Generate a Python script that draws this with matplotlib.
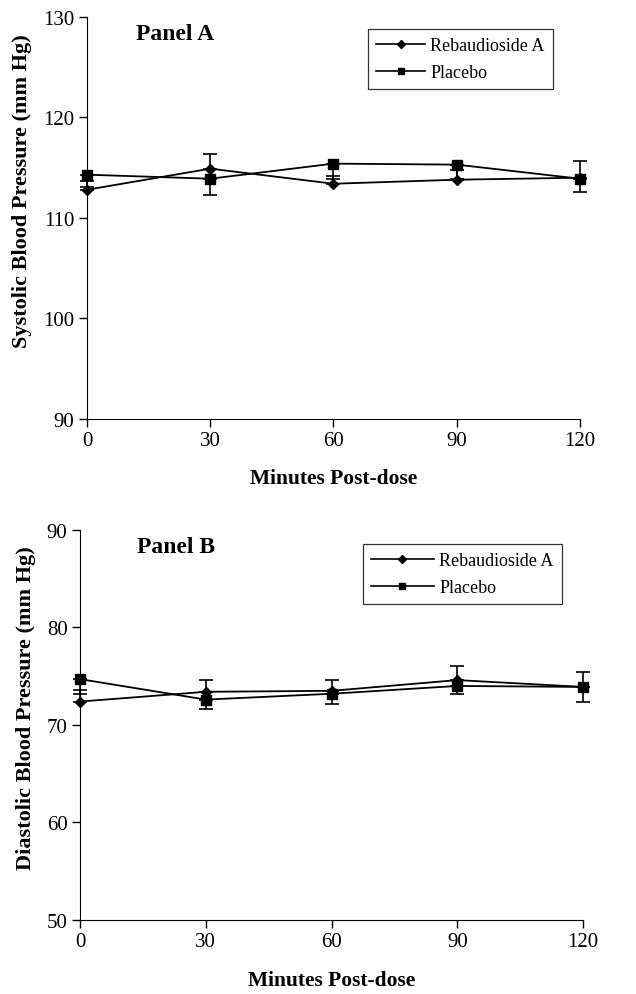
import matplotlib
matplotlib.use('Agg')
import matplotlib.pyplot as plt
from matplotlib.lines import Line2D

plt.rcParams['font.family'] = ['Liberation Serif', 'DejaVu Serif']

minutes = [0, 30, 60, 90, 120]

# Panel A - systolic
sys_reb = [112.8, 114.9, 113.4, 113.8, 114.0]
sys_reb_err = [0.9, 1.5, 0.8, 1.0, 1.7]
sys_pla = [114.3, 113.9, 115.4, 115.3, 113.9]
sys_pla_err = [1.2, 1.6, 1.55, 1.4, 1.3]

# Panel B - diastolic
dia_reb = [72.4, 73.4, 73.5, 74.6, 73.9]
dia_reb_err = [1.2, 1.2, 1.1, 1.4, 1.5]
dia_pla = [74.7, 72.6, 73.2, 74.0, 73.9]
dia_pla_err = [1.5, 1.0, 1.1, 0.8, 1.5]


def draw_panel(ax, reb, reb_err, pla, pla_err, ylim, yticks, ylabel, title,
               title_x, ylab_pos, leg_anchor, handle_len):
    zeros = [0] * len(minutes)
    # rebaudioside: upward bars, placebo: downward bars
    ax.errorbar(minutes, reb, yerr=[zeros, reb_err], color='black', lw=1.3,
                marker='D', ms=5.5, capsize=5, capthick=1.2, elinewidth=1.2,
                clip_on=False, zorder=3)
    ax.errorbar(minutes, pla, yerr=[pla_err, zeros], color='black', lw=1.3,
                marker='s', ms=6.5, capsize=5, capthick=1.2, elinewidth=1.2,
                clip_on=False, zorder=3)
    ax.set_xlim(0, 120)
    ax.set_ylim(*ylim)
    ax.set_xticks(minutes)
    ax.set_yticks(yticks)
    ax.spines['top'].set_visible(False)
    ax.spines['right'].set_visible(False)
    ax.tick_params(labelsize=15, direction='out', length=6, width=1, pad=3)
    ax.set_xlabel('Minutes Post-dose', fontsize=15.5, fontweight='bold', labelpad=13)
    ax.set_ylabel(ylabel, fontsize=16, fontweight='bold')
    ax.yaxis.set_label_coords(*ylab_pos)
    ax.text(title_x, 0.985, title, transform=ax.transAxes, fontsize=17,
            fontweight='bold', va='top', ha='left')
    handles = [Line2D([], [], color='black', lw=1.2, marker='D', ms=4.5),
               Line2D([], [], color='black', lw=1.2, marker='s', ms=5)]
    leg = ax.legend(handles, ['Rebaudioside A', 'Placebo'], loc='upper right',
                    bbox_to_anchor=leg_anchor, fontsize=13,
                    frameon=True, fancybox=False, edgecolor='black',
                    handlelength=handle_len, handletextpad=0.3, borderpad=0.45,
                    labelspacing=0.55, borderaxespad=0)
    leg.get_frame().set_linewidth(0.9)


fig = plt.figure(figsize=(6.36, 9.95), dpi=100)
ax1 = fig.add_axes([0.1368, 0.578, 0.775, 0.404])
ax2 = fig.add_axes([0.1258, 0.0744, 0.791, 0.392])

draw_panel(ax1, sys_reb, sys_reb_err, sys_pla, sys_pla_err, (90, 130),
           [90, 100, 110, 120, 130], 'Systolic Blood Pressure (mm Hg)', 'Panel A',
           0.1, (-0.112, 0.57), (0.945, 0.97), 2.7)
draw_panel(ax2, dia_reb, dia_reb_err, dia_pla, dia_pla_err, (50, 90),
           [50, 60, 70, 80, 90], 'Diastolic Blood Pressure (mm Hg)', 'Panel B',
           0.113, (-0.088, 0.545), (0.958, 0.964), 3.5)

plt.savefig('out.png', dpi=100)
